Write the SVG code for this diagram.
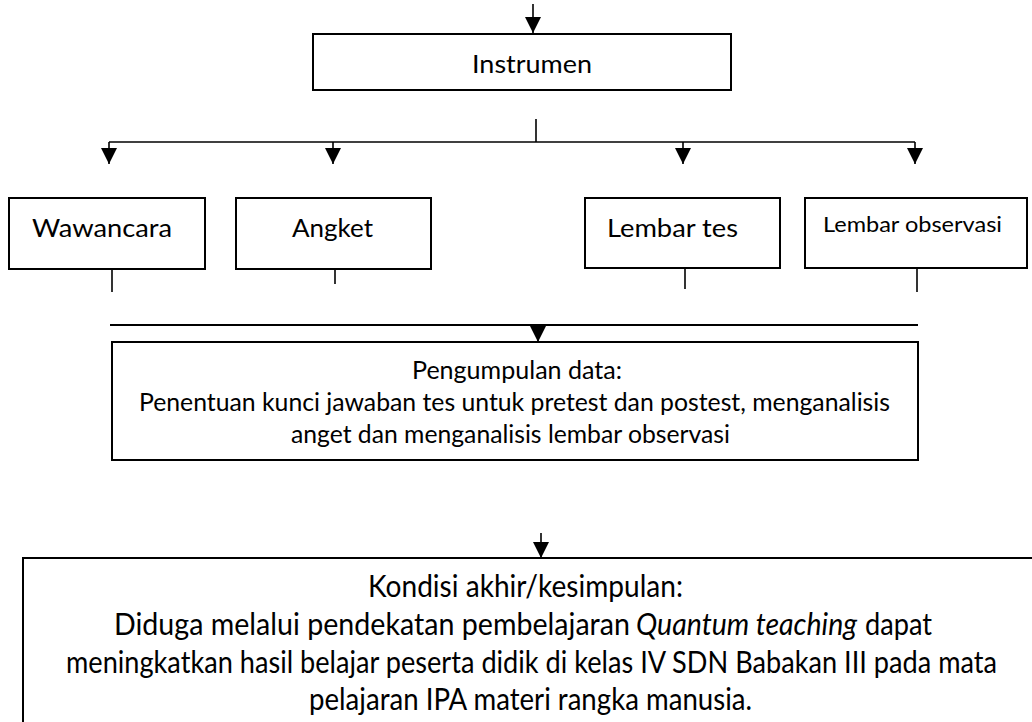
<svg xmlns="http://www.w3.org/2000/svg" width="1032" height="722" viewBox="0 0 1032 722">
<style>
.box{fill:#fff;stroke:#000;stroke-width:2}
.t{font-family:Lato,"Liberation Sans",sans-serif;font-size:25px;fill:#000}
.ts{font-family:Lato,"Liberation Sans",sans-serif;font-size:21px;fill:#000}
.tb{font-family:Lato,"Liberation Sans",sans-serif;font-size:30px;fill:#000}
.c{fill:none;stroke:#000;stroke-width:1.6}
.ca{fill:none;stroke:#000;stroke-width:1.6;marker-end:url(#ah)}
</style>
<defs>
<marker id="ah" viewBox="0 0 16 16" refX="16" refY="8" markerWidth="16" markerHeight="16" markerUnits="userSpaceOnUse" orient="auto">
<path d="M0,0 L16,8 L0,16 z" fill="#000"/>
</marker>
</defs>
<rect width="1032" height="722" fill="#fff"/>
<g id="connectors">
<path class="ca" d="M533,4 L533,33"/>
<path class="c" d="M536,119 L536,142"/>
<path class="c" d="M109,142 L915,142"/>
<path class="ca" d="M109,142 L109,164"/>
<path class="ca" d="M333,142 L333,164"/>
<path class="ca" d="M683,142 L683,164"/>
<path class="ca" d="M915,142 L915,164"/>
<path class="c" d="M112,269 L112,292"/>
<path class="c" d="M335,266 L335,284"/>
<path class="c" d="M685,266 L685,289"/>
<path class="c" d="M917,269 L917,292"/>
<path class="c" style="stroke-width:2" d="M110,325 L918,325"/>
<path class="ca" d="M538,325 L538,342"/>
<path class="ca" d="M541,533 L541,558"/>
</g>
<g id="instrumen">
<rect class="box" x="313" y="34" width="418" height="56"/>
<text class="t" x="472" y="73" textLength="120" lengthAdjust="spacingAndGlyphs">Instrumen</text>
</g>
<g id="wawancara">
<rect class="box" x="9" y="198" width="196" height="71"/>
<text class="t" x="32" y="237" textLength="140" lengthAdjust="spacingAndGlyphs">Wawancara</text>
</g>
<g id="angket">
<rect class="box" x="236" y="198" width="195" height="71"/>
<text class="t" x="292" y="237" textLength="81" lengthAdjust="spacingAndGlyphs">Angket</text>
</g>
<g id="lembar-tes">
<rect class="box" x="585" y="198" width="195" height="70"/>
<text class="t" x="607" y="237" textLength="131" lengthAdjust="spacingAndGlyphs">Lembar tes</text>
</g>
<g id="lembar-observasi">
<rect class="box" x="805" y="198" width="222" height="70"/>
<text class="ts" x="823" y="232" textLength="179" lengthAdjust="spacingAndGlyphs">Lembar observasi</text>
</g>
<g id="pengumpulan-data">
<rect class="box" x="112" y="342" width="806" height="118"/>
<text class="t" x="412" y="379" textLength="210" lengthAdjust="spacingAndGlyphs">Pengumpulan data:</text>
<text class="t" x="139" y="411" textLength="751" lengthAdjust="spacingAndGlyphs">Penentuan kunci jawaban tes untuk pretest dan postest, menganalisis</text>
<text class="t" x="291" y="443" textLength="439" lengthAdjust="spacingAndGlyphs">anget dan menganalisis lembar observasi</text>
</g>
<g id="kondisi-akhir">
<rect class="box" x="23" y="558" width="1020" height="180"/>
<text class="tb" x="368" y="597" textLength="315" lengthAdjust="spacingAndGlyphs">Kondisi akhir/kesimpulan:</text>
<text class="tb" y="635"><tspan x="114" textLength="516" lengthAdjust="spacingAndGlyphs">Diduga melalui pendekatan pembelajaran</tspan> <tspan x="636" font-style="italic" textLength="221" lengthAdjust="spacingAndGlyphs">Quantum teaching</tspan> <tspan x="865" textLength="67" lengthAdjust="spacingAndGlyphs">dapat</tspan></text>
<text class="tb" x="66" y="673" textLength="931" lengthAdjust="spacingAndGlyphs">meningkatkan hasil belajar peserta didik di kelas IV SDN Babakan III pada mata</text>
<text class="tb" x="309" y="710" textLength="443" lengthAdjust="spacingAndGlyphs">pelajaran IPA materi rangka manusia.</text>
</g>
</svg>
